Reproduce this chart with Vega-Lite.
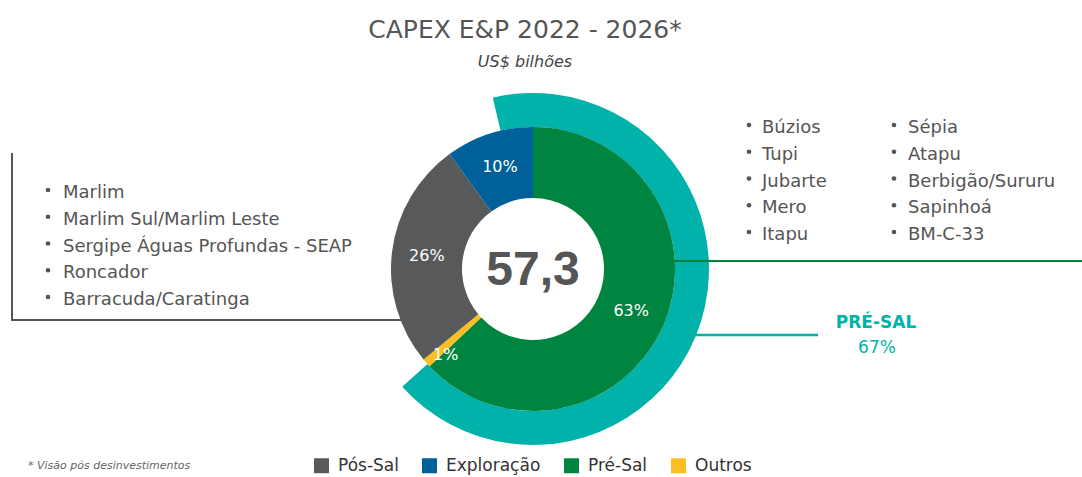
{
  "$schema": "https://vega.github.io/schema/vega-lite/v6.json",
  "width": 1066,
  "height": 358,
  "autosize": {"type": "none"},
  "padding": {"left": 0, "top": 90, "right": 16, "bottom": 29},
  "background": "white",
  "config": {
    "view": {"stroke": null},
    "locale": {"number": {"decimal": ",", "thousands": ".", "grouping": [3], "currency": ["R$ ", ""]}},
    "text": {"font": "DejaVu Sans"}
  },
  "title": {
    "text": "CAPEX E&P 2022 - 2026*",
    "subtitle": "US$ bilhões",
    "font": "DejaVu Sans",
    "fontSize": 25,
    "fontWeight": "normal",
    "color": "#555555",
    "subtitleFont": "DejaVu Sans",
    "subtitleFontSize": 16,
    "subtitleFontStyle": "italic",
    "subtitleColor": "#444444",
    "subtitlePadding": 11,
    "anchor": "middle",
    "offset": 20,
    "dx": -8
  },
  "datasets": {
    "segmentos": [
      {"segmento": "Pré-Sal", "participacao": 0.63, "ordem": 1},
      {"segmento": "Outros", "participacao": 0.01, "ordem": 2},
      {"segmento": "Pós-Sal", "participacao": 0.26, "ordem": 3},
      {"segmento": "Exploração", "participacao": 0.10, "ordem": 4}
    ],
    "presal": [
      {"parte": "PRÉ-SAL", "participacao": 0.67},
      {"parte": "Demais", "participacao": 0.33}
    ],
    "total": [{"capex": 57.3}],
    "campos_pos": [
      {"campo": "Marlim", "n": 1},
      {"campo": "Marlim Sul/Marlim Leste", "n": 2},
      {"campo": "Sergipe Águas Profundas - SEAP", "n": 3},
      {"campo": "Roncador", "n": 4},
      {"campo": "Barracuda/Caratinga", "n": 5}
    ],
    "campos_pre": [
      {"campo": "Búzios", "col": 1, "n": 1},
      {"campo": "Tupi", "col": 1, "n": 2},
      {"campo": "Jubarte", "col": 1, "n": 3},
      {"campo": "Mero", "col": 1, "n": 4},
      {"campo": "Itapu", "col": 1, "n": 5},
      {"campo": "Sépia", "col": 2, "n": 1},
      {"campo": "Atapu", "col": 2, "n": 2},
      {"campo": "Berbigão/Sururu", "col": 2, "n": 3},
      {"campo": "Sapinhoá", "col": 2, "n": 4},
      {"campo": "BM-C-33", "col": 2, "n": 5}
    ],
    "nota": [{"texto": "* Visão pós desinvestimentos"}]
  },
  "layer": [
    {
      "data": {"values": [{"ligacao": "Pré-Sal"}]},
      "mark": {"type": "rule", "color": "#00b2a9", "strokeWidth": 2.5},
      "encoding": {
        "x": {"datum": 690, "type": "quantitative", "scale": {"domain": [0, 1082], "range": [0, 1082], "nice": false, "zero": false}, "axis": null},
        "x2": {"datum": 818},
        "y": {"datum": 335, "type": "quantitative", "scale": {"domain": [0, 477], "range": [-90, 387], "nice": false, "zero": false}, "axis": null}
      }
    },
    {
      "data": {"name": "presal"},
      "mark": {"type": "arc", "radius": 176, "radius2": 142, "color": "#00b2a9"},
      "encoding": {
        "theta": {"field": "participacao", "type": "quantitative", "stack": true, "scale": {"range": [-0.2304, 6.0528]}},
        "order": {"field": "participacao", "sort": "descending"},
        "fillOpacity": {"condition": {"test": "datum.parte === 'PRÉ-SAL'", "value": 1}, "value": 0}
      }
    },
    {
      "data": {"values": [{"ligacao": "Pré-Sal"}]},
      "mark": {"type": "rule", "color": "#00843d", "strokeWidth": 2},
      "encoding": {
        "x": {"datum": 660, "type": "quantitative", "scale": {"domain": [0, 1082], "range": [0, 1082], "nice": false, "zero": false}, "axis": null},
        "x2": {"datum": 1082},
        "y": {"datum": 261, "type": "quantitative", "scale": {"domain": [0, 477], "range": [-90, 387], "nice": false, "zero": false}, "axis": null}
      }
    },
    {
      "data": {"values": [{"ligacao": "Pós-Sal"}]},
      "mark": {"type": "rule", "color": "#555555", "strokeWidth": 2},
      "encoding": {
        "x": {"datum": 12, "type": "quantitative", "scale": {"domain": [0, 1082], "range": [0, 1082], "nice": false, "zero": false}, "axis": null},
        "y": {"datum": 153, "type": "quantitative", "scale": {"domain": [0, 477], "range": [-90, 387], "nice": false, "zero": false}, "axis": null},
        "y2": {"datum": 321}
      }
    },
    {
      "data": {"values": [{"ligacao": "Pós-Sal"}]},
      "mark": {"type": "rule", "color": "#555555", "strokeWidth": 2},
      "encoding": {
        "x": {"datum": 11, "type": "quantitative", "scale": {"domain": [0, 1082], "range": [0, 1082], "nice": false, "zero": false}, "axis": null},
        "x2": {"datum": 420},
        "y": {"datum": 320, "type": "quantitative", "scale": {"domain": [0, 477], "range": [-90, 387], "nice": false, "zero": false}, "axis": null}
      }
    },
    {
      "data": {"name": "segmentos"},
      "mark": {"type": "arc", "radius": 142, "radius2": 71},
      "encoding": {
        "theta": {"field": "participacao", "type": "quantitative", "stack": true},
        "order": {"field": "ordem"},
        "color": {
          "field": "segmento",
          "type": "nominal",
          "scale": {"domain": ["Pós-Sal", "Exploração", "Pré-Sal", "Outros"], "range": ["#58595b", "#00609a", "#008541", "#fbbf24"]},
          "legend": {
            "orient": "none",
            "legendX": 313,
            "legendY": 367,
            "direction": "horizontal",
            "title": null,
            "symbolType": "square",
            "symbolSize": 225,
            "symbolStrokeWidth": 0,
            "labelFont": "DejaVu Sans",
            "labelFontSize": 17,
            "labelColor": "#333333",
            "labelOffset": 8,
            "columnPadding": 22
          }
        }
      }
    },
    {
      "data": {"name": "segmentos"},
      "mark": {"type": "text", "radius": 107, "font": "DejaVu Sans", "fontSize": 16, "color": "white"},
      "encoding": {
        "theta": {"field": "participacao", "type": "quantitative", "stack": true},
        "order": {"field": "ordem"},
        "text": {"field": "participacao", "type": "quantitative", "format": ".0%"},
        "opacity": {"condition": {"test": "datum.segmento === 'Outros'", "value": 0}, "value": 1}
      }
    },
    {
      "data": {"name": "segmentos"},
      "mark": {"type": "text", "radius": 123, "dx": 5, "dy": 5, "font": "DejaVu Sans", "fontSize": 16, "color": "white"},
      "encoding": {
        "theta": {"field": "participacao", "type": "quantitative", "stack": true},
        "order": {"field": "ordem"},
        "text": {"field": "participacao", "type": "quantitative", "format": ".0%"},
        "opacity": {"condition": {"test": "datum.segmento === 'Outros'", "value": 1}, "value": 0}
      }
    },
    {
      "data": {"name": "total"},
      "mark": {"type": "text", "font": "Liberation Sans", "fontSize": 48, "fontWeight": "bold", "color": "#555555", "baseline": "middle", "align": "center", "dy": 2},
      "encoding": {
        "text": {"field": "capex", "type": "quantitative", "format": ",.1f"}
      }
    },
    {
      "data": {"name": "presal"},
      "transform": [{"filter": "datum.parte === 'PRÉ-SAL'"}],
      "mark": {"type": "text", "font": "DejaVu Sans", "fontSize": 17, "fontWeight": "bold", "color": "#00b2a9", "align": "center", "baseline": "middle"},
      "encoding": {
        "x": {"datum": 876, "type": "quantitative", "scale": {"domain": [0, 1082], "range": [0, 1082], "nice": false, "zero": false}, "axis": null},
        "y": {"datum": 323, "type": "quantitative", "scale": {"domain": [0, 477], "range": [-90, 387], "nice": false, "zero": false}, "axis": null},
        "text": {"field": "parte"}
      }
    },
    {
      "data": {"name": "presal"},
      "transform": [{"filter": "datum.parte === 'PRÉ-SAL'"}],
      "mark": {"type": "text", "font": "DejaVu Sans", "fontSize": 17, "color": "#00b2a9", "align": "center", "baseline": "middle"},
      "encoding": {
        "x": {"datum": 877, "type": "quantitative", "scale": {"domain": [0, 1082], "range": [0, 1082], "nice": false, "zero": false}, "axis": null},
        "y": {"datum": 348, "type": "quantitative", "scale": {"domain": [0, 477], "range": [-90, 387], "nice": false, "zero": false}, "axis": null},
        "text": {"field": "participacao", "type": "quantitative", "format": ".0%"}
      }
    },
    {
      "data": {"name": "campos_pos"},
      "mark": {"type": "circle", "size": 22, "color": "#555555", "opacity": 1},
      "encoding": {
        "x": {"datum": 48, "type": "quantitative", "scale": {"domain": [0, 1082], "range": [0, 1082], "nice": false, "zero": false}, "axis": null},
        "y": {"field": "n", "type": "quantitative", "scale": {"domain": [1, 5], "range": [100, 207], "nice": false, "zero": false}, "axis": null}
      }
    },
    {
      "data": {"name": "campos_pos"},
      "mark": {"type": "text", "font": "DejaVu Sans", "fontSize": 18, "color": "#555555", "align": "left", "baseline": "middle"},
      "encoding": {
        "x": {"datum": 63, "type": "quantitative", "scale": {"domain": [0, 1082], "range": [0, 1082], "nice": false, "zero": false}, "axis": null},
        "y": {"field": "n", "type": "quantitative", "scale": {"domain": [1, 5], "range": [103, 210], "nice": false, "zero": false}, "axis": null},
        "text": {"field": "campo"}
      }
    },
    {
      "data": {"name": "campos_pre"},
      "mark": {"type": "circle", "size": 22, "color": "#555555", "opacity": 1},
      "encoding": {
        "x": {"field": "col", "type": "quantitative", "scale": {"domain": [1, 2], "range": [749, 894], "nice": false, "zero": false}, "axis": null},
        "y": {"field": "n", "type": "quantitative", "scale": {"domain": [1, 5], "range": [35, 142], "nice": false, "zero": false}, "axis": null}
      }
    },
    {
      "data": {"name": "campos_pre"},
      "mark": {"type": "text", "font": "DejaVu Sans", "fontSize": 18, "color": "#555555", "align": "left", "baseline": "middle"},
      "encoding": {
        "x": {"field": "col", "type": "quantitative", "scale": {"domain": [1, 2], "range": [762, 908], "nice": false, "zero": false}, "axis": null},
        "y": {"field": "n", "type": "quantitative", "scale": {"domain": [1, 5], "range": [38, 145], "nice": false, "zero": false}, "axis": null},
        "text": {"field": "campo"}
      }
    },
    {
      "data": {"name": "nota"},
      "mark": {"type": "text", "font": "DejaVu Sans", "fontSize": 11, "fontStyle": "italic", "color": "#666666", "align": "left", "baseline": "middle"},
      "encoding": {
        "x": {"datum": 28, "type": "quantitative", "scale": {"domain": [0, 1082], "range": [0, 1082], "nice": false, "zero": false}, "axis": null},
        "y": {"datum": 466, "type": "quantitative", "scale": {"domain": [0, 477], "range": [-90, 387], "nice": false, "zero": false}, "axis": null},
        "text": {"field": "texto"}
      }
    }
  ],
  "resolve": {"scale": {"x": "independent", "y": "independent", "theta": "independent", "opacity": "independent", "fillOpacity": "independent"}}
}
